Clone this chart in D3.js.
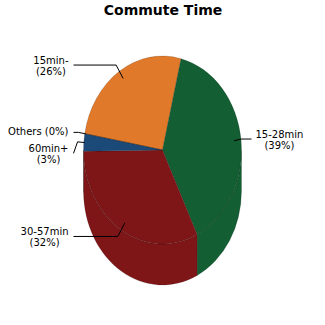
<!DOCTYPE html>
<html><head><meta charset="utf-8">
<script src="https://cdn.jsdelivr.net/npm/d3@7"></script>
<style>body{margin:0;background:#fff}</style>
</head><body><svg id="c" width="325" height="325"></svg>
<script>
const title = "Commute Time";
const categories = ["15min-", "15-28min", "30-57min", "60min+", "Others"];
const values = [26, 39, 32, 3, 0];
const colors = ["#e07a2a", "#135e33", "#7e1517", "#1b4a79", "#8a8a8a"];

const W = 325, H = 325, cx = 162.5, cy = 150, rx = 79, ry = 94, depth = 41;
const rad = Math.PI / 180;
const FONT = "DejaVu Sans";
const svg = d3.select("#c");
svg.append("rect").attr("width", W).attr("height", H).attr("fill", "#fff");
svg.append("text").attr("x", 163).attr("y", 15).attr("text-anchor", "middle")
  .attr("font-family", FONT).attr("font-weight", "bold").attr("font-size", 14).text(title);

const pie = d3.pie().sort(null).value(d => d).startAngle(-80 * rad).endAngle(280 * rad);
const arcs = pie(values).map((a, i) => ({...a, i}));
const pt = (a, r, dy = 0) => [cx + rx * r * Math.sin(a), cy - ry * r * Math.cos(a) + dy];

// side walls (front half only)
const sides = svg.append("g");
arcs.forEach(a => {
  for (const shift of [-2 * Math.PI, 0, 2 * Math.PI]) {
    const s = Math.max(a.startAngle + shift, Math.PI / 2);
    const e = Math.min(a.endAngle + shift, 1.5 * Math.PI);
    if (e - s > 1e-4) {
      const p0 = pt(s, 1), p1 = pt(e, 1);
      const large = (e - s) > Math.PI ? 1 : 0;
      const d = `M${p0[0]},${p0[1]}A${rx},${ry} 0 ${large} 1 ${p1[0]},${p1[1]}` +
        `L${p1[0]},${p1[1] + depth}A${rx},${ry} 0 ${large} 0 ${p0[0]},${p0[1] + depth}Z`;
      sides.append("path").attr("d", d).attr("fill", colors[a.i])
        .attr("stroke", "rgba(0,0,0,0.18)").attr("stroke-width", 0.8);
    }
  }
});

// top faces
const arcGen = d3.arc().innerRadius(0).outerRadius(1);
const topFace = svg.append("g").attr("transform", `translate(${cx},${cy}) scale(${rx},${ry})`);
topFace.selectAll("path").data(arcs).join("path")
  .attr("d", arcGen)
  .attr("fill", d => colors[d.i])
  .attr("stroke", "rgba(0,0,0,0.18)").attr("stroke-width", 0.8)
  .attr("vector-effect", "non-scaling-stroke");

// labels
const labels = arcs.map(a => {
  const m = (a.startAngle + a.endAngle) / 2;
  const dir = Math.sin(m) >= 0 ? 1 : -1;
  const v = values[a.i];
  const lines = v === 0 ? [`${categories[a.i]} (${v}%)`] : [categories[a.i], `(${v}%)`];
  const anchor = pt(m, v < 5 ? 0.99 : 0.91);
  const ny = cy - 1.08 * ry * Math.cos(m);
  return {i: a.i, dir, lines, anchor, ny, y: ny};
});
[-1, 1].forEach(dir => {
  const grp = labels.filter(l => l.dir === dir).sort((a, b) => a.ny - b.ny);
  for (let k = 1; k < grp.length; k++) {
    const p = grp[k - 1];
    grp[k].y = Math.max(grp[k].ny, p.y + p.lines.length * 11 + 10);
  }
});
const lg = svg.append("g");
labels.forEach(l => {
  const endX = l.dir < 0 ? cx - rx - 10 : cx + rx + 10;
  const elbow = [l.anchor[0] + 7 * l.dir, l.ny];
  lg.append("path")
    .attr("d", d3.line()([[endX, l.y], elbow, l.anchor]))
    .attr("fill", "none").attr("stroke", "#000").attr("stroke-width", 1);
  const t = lg.append("text").attr("font-family", FONT).attr("font-size", 10)
    .attr("text-anchor", "middle").attr("fill", "#000");
  const centers = l.lines.length === 1 ? [l.y - 0.5] : [l.y - 5, l.y + 6];
  const spans = l.lines.map((s, k) => t.append("tspan").attr("y", centers[k] + 3.6).text(s));
  const maxW = d3.max(spans, s => s.node().getComputedTextLength());
  const x = l.dir < 0 ? endX - 5 - maxW / 2 : endX + 4 + maxW / 2;
  spans.forEach(s => s.attr("x", x));
});
</script>
</body></html>
